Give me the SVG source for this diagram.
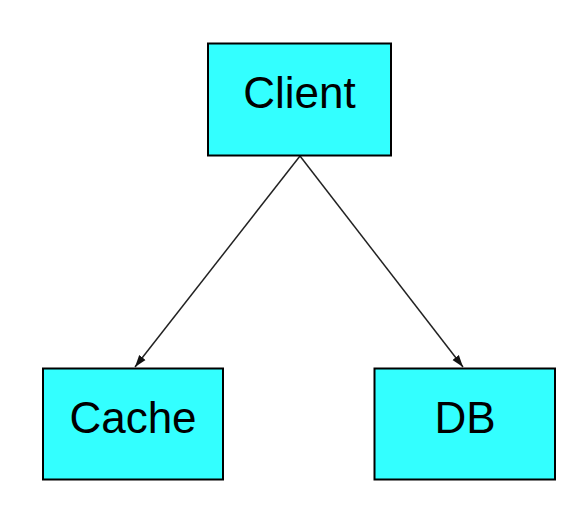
<svg xmlns="http://www.w3.org/2000/svg" width="584" height="508" viewBox="0 0 584 508">
<defs>
<style>
.box{fill:#33ffff;stroke:#000;stroke-width:2}
.lbl{font-family:"Liberation Sans",Arial,sans-serif;font-size:44px;fill:#000;text-anchor:middle}
.edge{stroke:#222;stroke-width:1.5;fill:none}
</style>
<marker id="arr" markerUnits="userSpaceOnUse" markerWidth="14" markerHeight="10" refX="12" refY="5" orient="auto">
<path d="M0,1 L12,5 L0,9 z" fill="#111"/>
</marker>
</defs>
<rect width="584" height="508" fill="#fff"/>
<g id="connectors">
<line class="edge" x1="300" y1="156" x2="135" y2="367" marker-end="url(#arr)"/>
<line class="edge" x1="300" y1="156" x2="463" y2="367" marker-end="url(#arr)"/>
</g>
<g id="client">
<rect class="box" x="208" y="43.5" width="183" height="112"/>
<text class="lbl" x="299.5" y="107.5">Client</text>
</g>
<g id="cache">
<rect class="box" x="43" y="368.5" width="180" height="111"/>
<text class="lbl" x="133" y="433">Cache</text>
</g>
<g id="db">
<rect class="box" x="374.5" y="368.5" width="180.5" height="111"/>
<text class="lbl" x="465" y="433">DB</text>
</g>
</svg>
